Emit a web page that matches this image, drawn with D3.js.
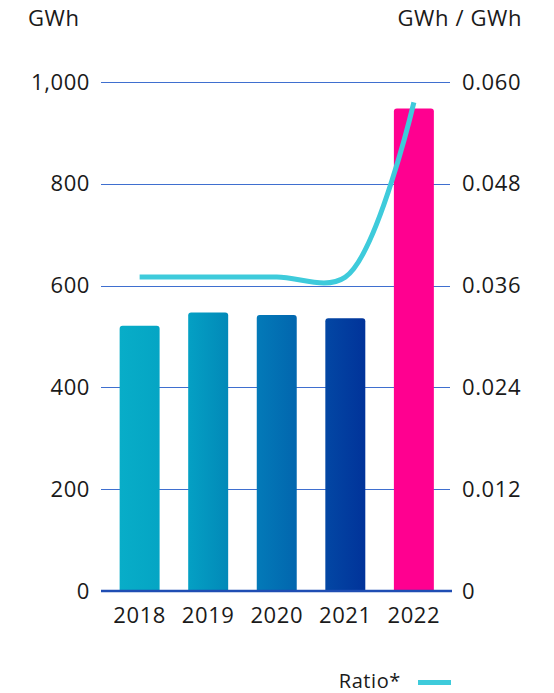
<!DOCTYPE html>
<html>
<head>
<meta charset="utf-8">
<script src="https://cdn.jsdelivr.net/npm/d3@7"></script>
<style>
  html, body { margin: 0; padding: 0; background: #ffffff; }
  svg text { font-family: "Open Sans", sans-serif; fill: #1a1a1a; letter-spacing: 0.6px; }
</style>
</head>
<body>
<svg id="chart" width="554" height="693"></svg>
<script>
// Annual energy (GWh, left axis) and ratio (GWh / GWh, right axis)
const years = ["2018", "2019", "2020", "2021", "2022"];
const energy = [521, 547, 542, 536, 948];
const ratio = [0.037, 0.037, 0.037, 0.037, 0.0576];
const leftTicks = [0, 200, 400, 600, 800, 1000];
const rightTicks = [0, 0.012, 0.024, 0.036, 0.048, 0.060];

// Bar fills: left-to-right shade pairs
const barShades = [
  ["#08adc8", "#05a5c4"],
  ["#04a0c4", "#0289b8"],
  ["#037ab8", "#0266ae"],
  ["#0347a4", "#01339a"],
  ["#ff0090", "#ff0090"]
];

const svg = d3.select("#chart");
const plotLeft = 101, plotRight = 450, plotTop = 82, plotBottom = 591;
const labelSize = "22px";

const x = d3.scaleBand().domain(years).range([plotLeft + 1.5, plotRight + 1])
  .paddingInner(0.417).paddingOuter(0.25);
const y = d3.scaleLinear().domain([0, 1000]).range([plotBottom, plotTop]);
const y2 = d3.scaleLinear().domain([0, 0.06]).range([plotBottom, plotTop]);

const defs = svg.append("defs");
barShades.forEach((s, i) => {
  const g = defs.append("linearGradient").attr("id", "bar" + i)
    .attr("x1", "0%").attr("x2", "100%").attr("y1", "0%").attr("y2", "0%");
  g.append("stop").attr("offset", "0%").attr("stop-color", s[0]);
  g.append("stop").attr("offset", "100%").attr("stop-color", s[1]);
});

// Gridlines
svg.append("g")
  .selectAll("line").data(leftTicks.filter(d => d > 0)).join("line")
  .attr("x1", plotLeft).attr("x2", plotRight)
  .attr("y1", d => Math.round(y(d)) + 0.5).attr("y2", d => Math.round(y(d)) + 0.5)
  .attr("stroke", "#3f6fcf").attr("stroke-width", 1);

// Bars with rounded top corners
const r = 3;
svg.append("g").selectAll("path").data(years).join("path")
  .attr("fill", (d, i) => `url(#bar${i})`)
  .attr("d", (d, i) => {
    const x0 = x(d), w = x.bandwidth(), y0 = y(energy[i]), yb = y(0);
    return `M${x0},${yb}V${y0 + r}Q${x0},${y0} ${x0 + r},${y0}H${x0 + w - r}Q${x0 + w},${y0} ${x0 + w},${y0 + r}V${yb}Z`;
  });

// Baseline
svg.append("line")
  .attr("x1", plotLeft).attr("x2", plotRight + 2)
  .attr("y1", y(0)).attr("y2", y(0))
  .attr("stroke", "#1f4db3").attr("stroke-width", 2.5);

// Left axis labels
svg.append("g").attr("transform", `translate(${plotLeft - 11},0)`)
  .call(d3.axisLeft(y).tickValues(leftTicks).tickSize(0).tickPadding(0)
    .tickFormat(d3.format(",")))
  .call(g => g.select(".domain").remove())
  .selectAll("text").style("font-size", labelSize).attr("fill", "#1a1a1a")
  .style("font-family", "'Open Sans', sans-serif");

// Right axis labels
svg.append("g").attr("transform", `translate(${plotRight + 12},0)`)
  .call(d3.axisRight(y2).tickValues(rightTicks).tickSize(0).tickPadding(0)
    .tickFormat(d => d === 0 ? "0" : d3.format(".3f")(d)))
  .call(g => g.select(".domain").remove())
  .selectAll("text").style("font-size", labelSize).attr("fill", "#1a1a1a")
  .style("font-family", "'Open Sans', sans-serif");

// Year labels
svg.append("g").attr("transform", `translate(0,${plotBottom + 10})`)
  .call(d3.axisBottom(x).tickSize(0).tickPadding(0))
  .call(g => g.select(".domain").remove())
  .selectAll("text").style("font-size", labelSize).attr("fill", "#1a1a1a")
  .attr("dy", "1.0em")
  .style("font-family", "'Open Sans', sans-serif");

// Ratio line
const line = d3.line()
  .x((d, i) => x(years[i]) + x.bandwidth() / 2)
  .y(d => y2(d))
  .curve(d3.curveCatmullRom.alpha(0.5));
svg.append("path").datum(ratio)
  .attr("d", line)
  .attr("fill", "none").attr("stroke", "#3ecbdb").attr("stroke-width", 5);

// Unit captions
svg.append("text").attr("x", 28).attr("y", 26).style("font-size", "22px").text("GWh");
svg.append("text").attr("x", 522).attr("y", 26).attr("text-anchor", "end")
  .style("font-size", "22px").text("GWh / GWh");

// Legend
svg.append("text").attr("x", 401).attr("y", 688).attr("text-anchor", "end")
  .style("font-size", "20px").text("Ratio*");
svg.append("line").attr("x1", 418).attr("x2", 451).attr("y1", 682.5).attr("y2", 682.5)
  .attr("stroke", "#3ecbdb").attr("stroke-width", 5);
</script>
</body>
</html>
